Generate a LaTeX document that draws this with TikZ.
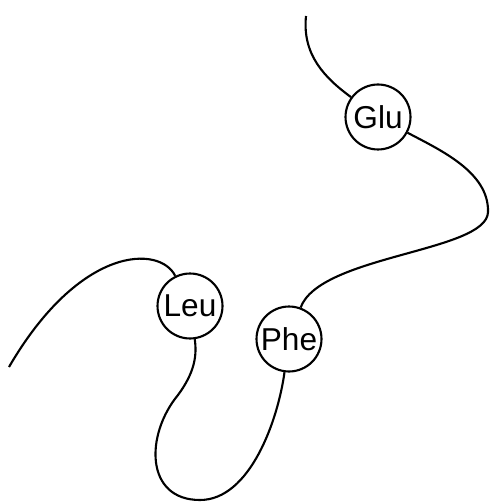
\documentclass[tikz,border=0pt]{standalone}
\usepackage{fontspec}
\setmainfont{Liberation Sans}
\begin{document}
\begin{tikzpicture}[x=0.02cm, y=-0.02cm,
        residue/.style={circle, draw, line width=1.2pt, minimum size=1.3cm, inner sep=0pt, font=\fontsize{18}{21}\selectfont},
        chain/.style={line width=1.2pt}]
        \useasboundingbox (0,0) rectangle (489,502);
        \node[residue] (glu) at (378,117) {Glu};
        \node[residue] (phe) at (289,339) {Phe};
        \node[residue] (leu) at (190,306) {Leu};
        \coordinate (top) at (306,16);
        \coordinate (tail) at (9,367);
        \draw[chain] (top) .. controls (302,55) and (325,78) .. (glu);
        \draw[chain] (glu) .. controls (440,150) and (489,172) .. (488,212)
            .. controls (487,252) and (320,255) .. (phe);
        \draw[chain] (phe) .. controls (278,420) and (250,500) .. (200,500)
            .. controls (145,500) and (145,435) .. (178,395)
            .. controls (195,372) and (197,355) .. (leu);
        \draw[chain] (leu) .. controls (160,245) and (80,245) .. (tail);
    \end{tikzpicture}
\end{document}
